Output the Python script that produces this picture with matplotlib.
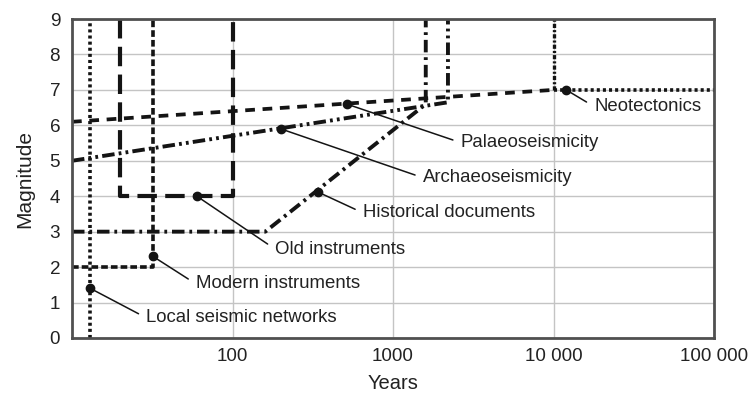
import matplotlib
matplotlib.use('Agg')
import matplotlib.pyplot as plt
from matplotlib.ticker import FixedLocator, NullLocator

plt.rcParams['font.family'] = ['Liberation Sans', 'DejaVu Sans']
plt.rcParams['lines.scale_dashes'] = False

# ---- data ----
x_ticks = [100, 1000, 10000, 100000]
x_tick_labels = ['100', '1000', '10 000', '100 000']
y_ticks = list(range(10))

local_x = [13, 13]
local_y = [0, 9]
modern_x = [10, 32, 32]
modern_y = [2, 2, 9]
old_x = [20, 20, 100, 100]
old_y = [9, 4, 4, 9]
hist_x = [10, 160, 1600, 1600]
hist_y = [3, 3, 6.6, 9]
archaeo_x = [10, 2200, 2200]
archaeo_y = [5, 6.65, 9]
palaeo_x = [10, 10000]
palaeo_y = [6.1, 7.0]
neo_x = [10000, 100000]
neo_y = [7, 7]
neo_v_x = [10000, 10000]
neo_v_y = [7, 9]

labels = ['Local seismic networks', 'Modern instruments', 'Old instruments',
          'Historical documents', 'Archaeoseismicity', 'Palaeoseismicity',
          'Neotectonics']
marker_x = [13, 32, 60, 340, 200, 515, 12000]
marker_y = [1.4, 2.3, 4.0, 4.12, 5.9, 6.6, 7.0]
text_x = [29, 59, 184, 650, 1540, 2650, 17900]
text_y = [0.57, 1.53, 2.51, 3.53, 4.52, 5.51, 6.53]

# ---- figure ----
fig = plt.figure(figsize=(7.52, 4.0), dpi=100)
ax = fig.add_axes([72/752, 1-338/400, (714-72)/752, (338-19)/400])
ax.set_xscale('log')
ax.set_xlim(10, 100000)
ax.set_ylim(0, 9)

lc = '#141414'
ax.plot(local_x, local_y, color=lc, lw=2.6, dashes=(2.2, 2.2))
ax.plot(modern_x, modern_y, color=lc, lw=2.6, dashes=(4.8, 2.2))
ax.plot(old_x, old_y, color=lc, lw=3.0, dashes=(14, 6))
ax.plot(hist_x, hist_y, color=lc, lw=2.8, dashes=(9, 3.5, 2, 3.5))
ax.plot(archaeo_x, archaeo_y, color=lc, lw=2.8, dashes=(9, 3, 2, 3, 2, 3))
ax.plot(palaeo_x, palaeo_y, color=lc, lw=2.7, dashes=(7, 5.5))
ax.plot(neo_x, neo_y, color=lc, lw=2.6, dashes=(2.2, 2.2))
ax.plot(neo_v_x, neo_v_y, color=lc, lw=2.4, dashes=(3, 1.5, 1.5, 1.5))

ax.plot(marker_x, marker_y, 'o', color=lc, ms=6, zorder=5)
for lab, mx, my, tx, ty in zip(labels, marker_x, marker_y, text_x, text_y):
    ax.annotate(lab, xy=(mx, my), xytext=(tx, ty), ha='left', va='center',
                fontsize=13.4, color='#222222',
                arrowprops=dict(arrowstyle='-', color=lc, lw=1.1,
                                shrinkA=4, shrinkB=0, relpos=(0, 0.5)))

ax.xaxis.set_major_locator(FixedLocator(x_ticks))
ax.xaxis.set_minor_locator(NullLocator())
ax.set_xticklabels(x_tick_labels)
ax.set_yticks(y_ticks)
ax.tick_params(axis='both', length=0, labelsize=13.6, colors='#222222')
ax.tick_params(axis='y', pad=8.5)
ax.tick_params(axis='x', pad=7)
ax.grid(True, color='#c4c4c4', lw=1.0)
ax.set_axisbelow(True)
for s in ax.spines.values():
    s.set_color('#505050')
    s.set_linewidth(2)

ax.set_xlabel('Years', fontsize=14.5, color='#222222', labelpad=7)
ax.set_ylabel('Magnitude', fontsize=15, color='#222222', labelpad=11)

fig.savefig('out.png', dpi=100)
